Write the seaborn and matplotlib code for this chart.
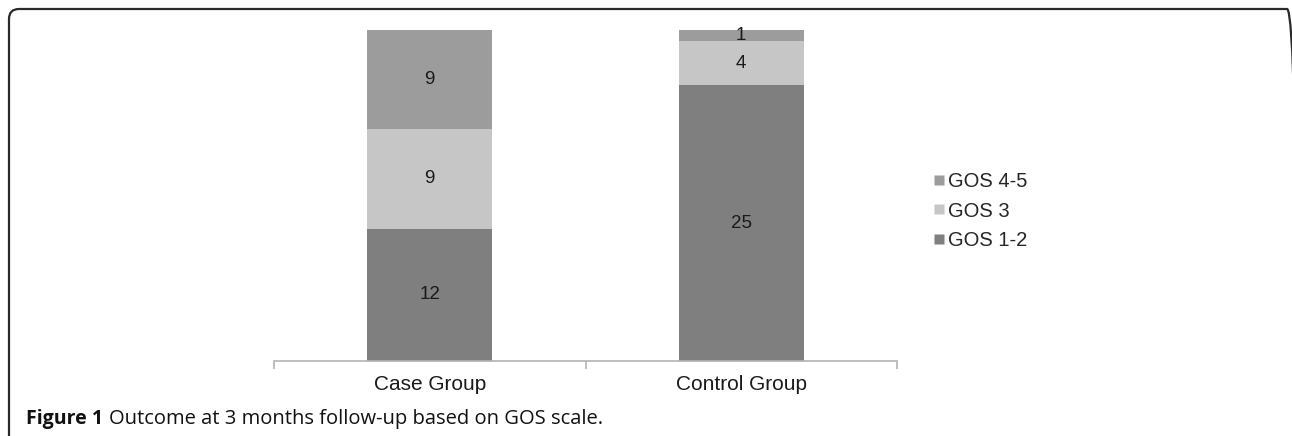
import matplotlib
matplotlib.use("Agg")
import matplotlib.pyplot as plt
from matplotlib.patches import FancyBboxPatch
from matplotlib.lines import Line2D
from matplotlib.transforms import Affine2D
import seaborn as sns
import pandas as pd
import numpy as np

groups = ["Case Group", "Control Group"]
series_names = ["GOS 1-2", "GOS 3", "GOS 4-5"]
gos_1_2 = [12, 25]
gos_3 = [9, 4]
gos_4_5 = [9, 1]
colors = {"GOS 1-2": "#7f7f7f", "GOS 3": "#c5c6c5", "GOS 4-5": "#9b9c9b"}

sns.set_theme(style="white")
plt.rcParams['font.family'] = ['Liberation Sans', 'DejaVu Sans']

W, H = 1292, 436
fig = plt.figure(figsize=(W / 100, H / 100), dpi=100)
ax = fig.add_axes([274 / W, 1 - 361 / H, (897 - 274) / W, (361 - 30) / H])

vals = [gos_1_2, gos_3, gos_4_5]
cum = np.cumsum(np.array(vals), axis=0)
for i in reversed(range(3)):
    df = pd.DataFrame({"group": groups, "value": cum[i]})
    sns.barplot(data=df, x="group", y="value", color=colors[series_names[i]],
                width=0.4, ax=ax, saturation=1, edgecolor="none", linewidth=0)

for i in range(3):
    bottoms = cum[i] - np.array(vals[i])
    for j, g in enumerate(groups):
        ax.text(j, bottoms[j] + vals[i][j] / 2, str(vals[i][j]), ha="center", va="center",
                fontsize=13.5, color="#1a1a1a")

ax.set_xlim(-0.5, 1.5)
ax.set_ylim(0, 30)
ax.set_xlabel("")
ax.set_ylabel("")
ax.set_yticks([])
for s in ["top", "right", "left"]:
    ax.spines[s].set_visible(False)
ax.spines["bottom"].set_color("#b3b3b3")
ax.spines["bottom"].set_linewidth(1.2)
ax.set_xticks([0, 1])
ax.set_xticklabels(groups, fontsize=15, color="#1a1a1a")
ax.tick_params(axis="x", which="major", length=0, pad=10)
ax.set_xticks([-0.5, 0.5, 1.5], minor=True)
ax.tick_params(axis="x", which="minor", length=6, width=1.2, color="#b3b3b3", bottom=True)

handles = [Line2D([0], [0], marker="s", linestyle="none", markersize=7.5,
                  markerfacecolor=colors[n], markeredgecolor="none") for n in reversed(series_names)]
fig.legend(handles, list(reversed(series_names)), loc="center left",
           bbox_to_anchor=(923 / W, 1 - 211 / H), frameon=False, fontsize=14.5,
           handletextpad=0.05, labelspacing=0.5, handlelength=0.8, borderaxespad=0)

# caption
cap_y = 1 - 419 / H
fig.text(26 / W, cap_y, "Figure 1", fontsize=14, fontweight="bold",
         family=["Open Sans", "DejaVu Sans"], va="center", ha="left", color="#111111")
fig.text(109 / W, cap_y, "Outcome at 3 months follow-up based on GOS scale.", fontsize=14.5,
         family=["Open Sans", "DejaVu Sans"], va="center", ha="left", color="#111111")

# border in pixel coordinates (origin bottom-left)
pix = Affine2D().scale(1 / W, 1 / H) + fig.transFigure
box = FancyBboxPatch((9, -30), 1297 - 9, (H - 9) + 30,
                     boxstyle="round,pad=0,rounding_size=10", transform=pix,
                     facecolor="none", edgecolor="#2a2a2a", linewidth=1.6, clip_on=False)
fig.patches.append(box)

fig.savefig("out.png", dpi=100)
